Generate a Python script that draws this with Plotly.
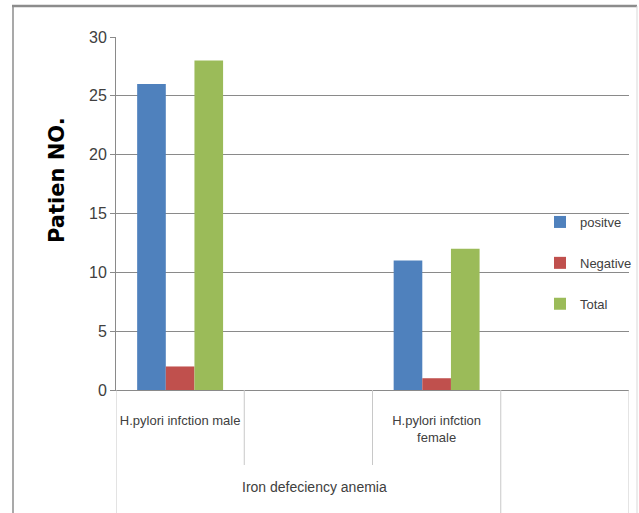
import plotly.graph_objects as go

categories = ["H.pylori infction male", "", "H.pylori infction<br>female", ""]
group_label = "Iron defeciency anemia"
positive = [26, None, 11, None]
negative = [2, None, 1, None]
total = [28, None, 12, None]
series_names = ["positve", "Negative", "Total"]
series_colors = ["#4F81BD", "#C0504D", "#9BBB59"]
y_ticks = [0, 5, 10, 15, 20, 25, 30]

W, H = 639, 513
L, R, T, B = 116, 10, 37, 123
plot_h = H - T - B

def py(pix):
    return (H - B - pix) / plot_h

def px(pix):
    return (pix - L) / (W - L - R)

narrow = "Liberation Sans, Arial, sans-serif"
grid = "#8a8a8a"
txt = "#404040"

def nfont(size):
    return dict(family=narrow, size=size, color=txt)

xs = list(range(len(categories)))
fig = go.Figure()
for name, vals, col in zip(series_names, [positive, negative, total], series_colors):
    fig.add_trace(go.Bar(x=xs, y=vals, name=name, marker=dict(color=col, line=dict(width=0)),
                         legendgroup=name))

shapes = []
for xv, bottom in [(-0.5, py(H)), (0.5, py(465)), (1.5, py(465)), (2.5, py(H)), (3.5, py(H))]:
    shapes.append(dict(type="line", xref="x", yref="paper", x0=xv, x1=xv, y0=0, y1=bottom,
                       line=dict(color="#c8c8c8", width=1)))
shapes.append(dict(type="line", xref="paper", yref="paper", x0=px(12), x1=px(637), y0=py(6), y1=py(6),
                   line=dict(color="#8c8c8c", width=2.5)))
shapes.append(dict(type="line", xref="paper", yref="paper", x0=px(13), x1=px(13), y0=py(6), y1=py(H),
                   line=dict(color="#8c8c8c", width=1.5)))
shapes.append(dict(type="line", xref="paper", yref="paper", x0=px(637), x1=px(637), y0=py(6), y1=py(H),
                   line=dict(color="#d9d9d9", width=1)))

annotations = [
    dict(text=group_label, xref="x", yref="paper", x=1.05, y=py(497), showarrow=False,
         font=nfont(14)),
    dict(text="<b>Patien NO.</b>", xref="paper", yref="paper", x=px(43), y=py(180), textangle=-90,
         showarrow=False, font=dict(family="DejaVu Sans", size=21, color="#000000")),
]

fig.update_layout(
    width=W, height=H,
    margin=dict(l=L, r=R, t=T, b=B, autoexpand=False),
    paper_bgcolor="white", plot_bgcolor="white",
    barmode="group", bargap=0.33, bargroupgap=0,
    showlegend=True,
    legend=dict(x=px(540), y=py(207), xanchor="left", yanchor="top", bgcolor="rgba(0,0,0,0)",
                tracegroupgap=21, font=nfont(13)),
    shapes=shapes, annotations=annotations,
    xaxis=dict(range=[-0.5, 3.5], tickmode="array", tickvals=xs, ticktext=categories,
               showgrid=False, zeroline=False, showline=True, linecolor=grid, linewidth=1,
               ticks="outside", ticklen=18, tickcolor="rgba(0,0,0,0)",
               tickfont=nfont(13)),
    yaxis=dict(range=[0, 30], tickmode="array", tickvals=y_ticks,
               showgrid=True, gridcolor=grid, gridwidth=1, zeroline=False,
               showline=True, linecolor=grid, linewidth=1,
               ticks="outside", ticklen=5, tickcolor=grid,
               tickfont=nfont(16)),
)

fig.write_html("out.html")
